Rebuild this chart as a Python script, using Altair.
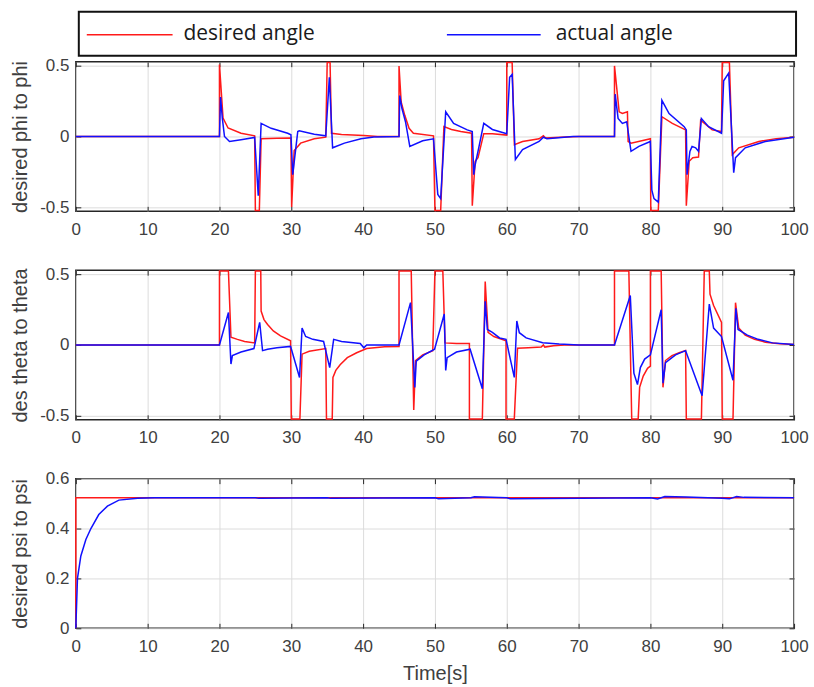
import altair as alt
import pandas as pd

# Saturation level of the attitude commands (30 degrees in rad)
S = 0.5236

SERIES = ["desired angle", "actual angle"]
RED = "#ff1a1a"
BLUE = "#1010ff"

X_TICKS = [0, 10, 20, 30, 40, 50, 60, 70, 80, 90, 100]
ANGLE_TICKS = [-0.5, 0, 0.5]
PSI_TICKS = [0, 0.2, 0.4, 0.6]

# ---- roll (phi) ----
phi_des_t = [0, 20, 20, 20.5, 21.2, 23, 24.9,
             25, 25.55, 25.8, 28, 29.95,
             30.05, 30.4, 31.3, 33.2, 34.8,
             35, 35.4, 35.6, 37, 40.1, 42, 45,
             45, 45.3, 45.8, 46.4, 47, 49.8,
             50, 50.8, 51.25, 52.3, 53.6, 55.1,
             55.2, 55.6, 56, 56.8, 58, 60,
             60, 60.75, 61.06, 62.2, 64.5, 65.1, 65.4, 68.2, 70, 75,
             75, 75.65, 76.1, 76.8, 76.9, 77.3, 79.4, 80,
             80.05, 81.1, 81.6, 83.05, 84.9,
             85.0, 85.4, 85.9, 86.7, 87, 88.6, 89.9,
             90, 91.0, 91.4, 92.3, 95.1, 97.5, 100]
phi_des_v = [0, 0, 0.51, 0.13, 0.06, 0.023, 0.005,
             -S, -S, -0.016, -0.012, -0.01,
             -0.50, -0.10, -0.047, -0.016, -0.005,
             S, S, 0.023, 0.015, 0.007, 0, 0,
             0.50, 0.245, 0.15, 0.058, 0.023, 0.005,
             -S, -S, 0.07, 0.05, 0.035, 0.023,
             -0.49, -0.175, -0.15, 0.02, 0.02, 0.01,
             S, S, -0.058, -0.035, -0.016, 0.005, -0.01, -0.003, 0, 0,
             0.50, 0.175, 0.163, 0.175, -0.035, -0.047, -0.023, -0.016,
             -S, -S, 0.14, 0.093, 0.047,
             -0.49, -0.175, -0.15, -0.145, 0.116, 0.047, 0.035,
             S, S, -0.128, -0.08, -0.035, -0.015, -0.005]

phi_act_t = [0, 20, 20.15, 20.4, 20.7, 21.4, 23, 24.9,
             25.4, 25.8, 27.2, 29.5, 29.95,
             30.2, 30.9, 31.1, 33.2, 34.8,
             35.3, 35.75, 37.4, 39.7, 41.5, 45,
             45.1, 45.4, 45.9, 46.5, 48.3, 49.8,
             50.4, 50.8, 51.5, 52.6, 54.5, 55.2,
             55.4, 55.6, 56.1, 56.8, 58, 60,
             60.4, 60.75, 61.2, 62.2, 64.5, 65.1, 65.6, 69.2, 75,
             75.1, 75.5, 76.1, 76.7, 77.3, 78.4, 80,
             80.2, 80.5, 81.1, 81.6, 82.6, 84.7, 85,
             85.1, 85.5, 85.8, 86.3, 86.7, 87.1, 88.1, 89.9,
             90.2, 90.9, 91.6, 91.85, 93.2, 96, 100]
phi_act_v = [0, 0, 0.28, 0.128, 0, -0.035, -0.023, -0.007,
             -0.42, 0.093, 0.058, 0.023, 0.012,
             -0.27, 0.035, 0.04, 0.016, 0.005,
             0.42, -0.08, -0.047, -0.016, -0.003, 0,
             0.29, 0.2, 0.105, -0.07, -0.03, -0.016,
             -0.41, -0.44, 0.175, 0.093, 0.047, 0.035,
             -0.27, -0.2, -0.08, 0.093, 0.05, 0.02,
             0.42, 0.44, -0.163, -0.093, -0.035, -0.005, -0.015, 0, 0,
             0.3, 0.128, 0.093, 0.105, -0.105, -0.07, -0.035,
             -0.38, -0.44, -0.465, 0.256, 0.163, 0.07, 0.047,
             -0.27, -0.105, -0.07, -0.08, -0.105, 0.128, 0.07, 0.023,
             0.395, 0.45, -0.256, -0.15, -0.08, -0.035, -0.005]

# ---- pitch (theta) ----
theta_des_t = [0, 20, 20, 21.25, 21.6, 22.5, 23.5, 24.9,
               25, 25.75, 25.8, 26.2, 26.7, 27.5, 28.5, 29.9,
               30, 31.2, 31.5, 32.5, 34.8,
               34.9, 35.7, 35.8, 36.2, 36.8, 37.8, 39.1, 40.5, 43, 45,
               45, 46.7, 47.05, 47.3, 48.3, 49.7,
               50, 51.1, 51.4, 53, 54.8,
               54.8, 56.6, 57.0, 57.4, 58.2, 59.9,
               59.9, 61.05, 61.5, 63, 64.8, 65.1, 65.3, 66.5, 68, 75,
               75, 77.0, 77.4, 78.3, 78.5, 79, 79.6, 80.0,
               80.0, 81.5, 81.75, 82.1, 83, 84, 84.9,
               85.0, 87.1, 87.5, 88.2, 88.3, 88.8, 89.9,
               90.0, 91.5, 91.85, 92.3, 93.2, 94.5, 96, 98, 100]
theta_des_v = [0, 0, S, S, 0.055, 0.04, 0.025, 0.015,
               S, S, 0.24, 0.18, 0.145, 0.1, 0.065, 0.03,
               -S, -S, -0.065, -0.045, -0.025,
               -S, -S, -0.23, -0.18, -0.14, -0.09, -0.055, -0.025, -0.012, -0.01,
               S, S, -0.46, -0.11, -0.07, -0.04,
               S, S, 0.015, 0.01, 0.01,
               -S, -S, 0.45, 0.09, 0.06, 0.03,
               -S, -S, -0.023, -0.02, -0.015, 0.0, -0.015, -0.005, 0, 0,
               S, S, -S, -S, -0.30, -0.22, -0.165, -0.15,
               S, S, -0.3, -0.11, -0.075, -0.055, -0.04,
               -S, -S, S, S, 0.36, 0.28, 0.16,
               -S, -S, 0.3, 0.12, 0.07, 0.04, 0.02, 0.008, 0.003]

theta_act_t = [0, 20, 21.25, 21.6, 21.8, 23, 24.8, 25.6, 26.0, 26.7, 28, 29.9,
               31.15, 31.5, 32, 33, 34.5, 35.35, 35.9, 37, 39.6, 40.1, 40.5, 45,
               46.6, 47.2, 47.4, 48.5, 49.95, 51.3, 51.5, 51.7, 53, 54.9,
               56.6, 57.0, 57.3, 58, 59, 59.9, 61.05, 61.4, 61.75, 62.7, 65, 67.3, 70, 75,
               77.2, 77.7, 78.2, 78.6, 79.2, 80.0, 81.5, 81.75, 82.1, 83.5, 84.9,
               87.2, 88.2, 88.8, 89.9, 91.5, 91.9, 92.2, 93.5, 95, 97, 100]
theta_act_v = [0, 0, 0.23, -0.135, -0.075, -0.05, -0.025, 0.16, -0.04, -0.03, -0.02, -0.01,
               -0.23, 0.12, 0.06, 0.04, 0.025, -0.16, 0.04, 0.025, 0.01, -0.02, 0, 0,
               0.30, -0.30, -0.115, -0.07, -0.03, 0.22, -0.18, -0.09, -0.05, -0.03,
               -0.31, 0.31, 0.11, 0.09, 0.05, 0.04, -0.23, 0.17, 0.087, 0.05, 0.016, 0.007, 0, 0,
               0.35, -0.2, -0.28, -0.16, -0.1, -0.07, 0.25, -0.27, -0.125, -0.07, -0.04,
               -0.36, 0.29, 0.12, 0.06, -0.25, 0.26, 0.11, 0.07, 0.04, 0.015, 0.003]

# ---- yaw (psi) ----
psi_des_t = [0, 0, 100]
psi_des_v = [0, S, S]

psi_act_t = [0, 0.23, 0.7, 1.4, 2.1, 3.2, 4.4, 6.0, 8.6, 11, 25, 25.5, 35, 35.5,
             50, 50.5, 55, 55.5, 60, 60.5, 80, 81, 82, 85, 90, 91, 92, 93, 100]
psi_act_v = [0, 0.2, 0.29, 0.356, 0.40, 0.456, 0.49, 0.514, 0.521, S, S, 0.521, S, 0.521,
             S, 0.519, S, 0.527, S, 0.519, S, 0.519, 0.528, 0.526, 0.521, 0.519, 0.528, 0.525, S]

INK = "#262626"
LABEL = "#404040"
GRID = "#dcdcdc"
FONT = "Liberation Sans"


def frame(t, v, name):
    return pd.DataFrame({"t": t, "v": v, "series": name, "k": list(range(len(t)))})


color = alt.Color("series:N", scale=alt.Scale(domain=SERIES, range=[RED, BLUE]), legend=None)


def panel(des_t, des_v, act_t, act_v, title, yticks, ydomain, xtitle=None, legend=False):
    xscale = alt.Scale(domain=[0, 100], nice=False, zero=False)
    yscale = alt.Scale(domain=ydomain, nice=False, zero=False)
    main_x = alt.Axis(orient="bottom", values=X_TICKS, grid=True, gridColor=GRID, gridWidth=1,
                      domain=False, ticks=True, tickSize=5, tickColor=INK, offset=-5,
                      labelPadding=10, labelFlush=False, labelFont=FONT, labelFontSize=17,
                      labelColor=LABEL, title=xtitle, titleFont=FONT, titleFontSize=20,
                      titleFontWeight="normal", titleColor=LABEL, titlePadding=9)
    main_y = alt.Axis(orient="left", values=yticks, grid=True, gridColor=GRID, gridWidth=1,
                      domain=False, ticks=True, tickSize=5, tickColor=INK, offset=-5,
                      labelPadding=7, labelExpr="'' + datum.value", labelFont=FONT,
                      labelFontSize=17, labelColor=LABEL, title=title, titleFont=FONT,
                      titleFontSize=20, titleFontWeight="normal", titleColor=LABEL,
                      titleX=-60, titleBaseline="middle")
    aux_x = alt.Axis(orient="top", values=X_TICKS, grid=False, domain=False, labels=False,
                     ticks=True, tickSize=5, tickColor=INK, offset=-5, title=None)
    aux_y = alt.Axis(orient="right", values=yticks, grid=False, domain=False, labels=False,
                     ticks=True, tickSize=5, tickColor=INK, offset=-5, title=None)

    des = alt.Chart(frame(des_t, des_v, SERIES[0])).mark_line(strokeWidth=1.5).encode(
        x=alt.X("t:Q", scale=xscale, axis=main_x),
        y=alt.Y("v:Q", scale=yscale, axis=main_y),
        color=color,
        order=alt.Order("k:Q"),
    )
    act = alt.Chart(frame(act_t, act_v, SERIES[1])).mark_line(strokeWidth=1.5).encode(
        x=alt.X("t:Q", scale=xscale, axis=aux_x),
        y=alt.Y("v:Q", scale=yscale, axis=aux_y),
        color=color,
        order=alt.Order("k:Q"),
    )
    layers = [des, act]

    if legend:
        names = pd.DataFrame({"series": SERIES})
        box = alt.Chart(names.iloc[:1]).mark_rect(fill="white", stroke="#111111", strokeWidth=2).encode(
            x=alt.value(3), x2=alt.value(722), y=alt.value(-50), y2=alt.value(-6))
        first = alt.Chart(names).transform_filter(alt.datum.series == SERIES[0])
        second = alt.Chart(names).transform_filter(alt.datum.series == SERIES[1])
        key_style = dict(strokeWidth=1.5)
        text_style = dict(align="left", baseline="middle", font="Open Sans", fontSize=21,
                          color="#1a1a1a")
        layers += [
            box,
            first.mark_rule(**key_style).encode(x=alt.value(11), x2=alt.value(97),
                                                y=alt.value(-27), color=color),
            second.mark_rule(**key_style).encode(x=alt.value(372), x2=alt.value(466),
                                                 y=alt.value(-27), color=color),
            first.mark_text(**text_style).encode(x=alt.value(108), y=alt.value(-28),
                                                 text="series:N"),
            second.mark_text(**text_style).encode(x=alt.value(481), y=alt.value(-28),
                                                  text="series:N"),
        ]

    return (alt.layer(*layers)
            .resolve_axis(x="independent", y="independent")
            .properties(width=720, height=150))


p_phi = panel(phi_des_t, phi_des_v, phi_act_t, phi_act_v, "desired phi to phi",
              ANGLE_TICKS, [-0.53, 0.53], legend=True)
p_theta = panel(theta_des_t, theta_des_v, theta_act_t, theta_act_v, "des theta to theta",
                ANGLE_TICKS, [-0.53, 0.53])
p_psi = panel(psi_des_t, psi_des_v, psi_act_t, psi_act_v, "desired psi to psi",
              PSI_TICKS, [0, 0.6], xtitle="Time[s]")

chart = alt.vconcat(p_phi, p_theta, p_psi, spacing=59, bounds="flush").properties(
    padding={"left": 10, "top": 9, "right": 5, "bottom": 0},
    background="white",
).configure_view(stroke=INK, strokeWidth=1.5)

chart.save("out.html", embed_options={"renderer": "svg", "actions": False})
